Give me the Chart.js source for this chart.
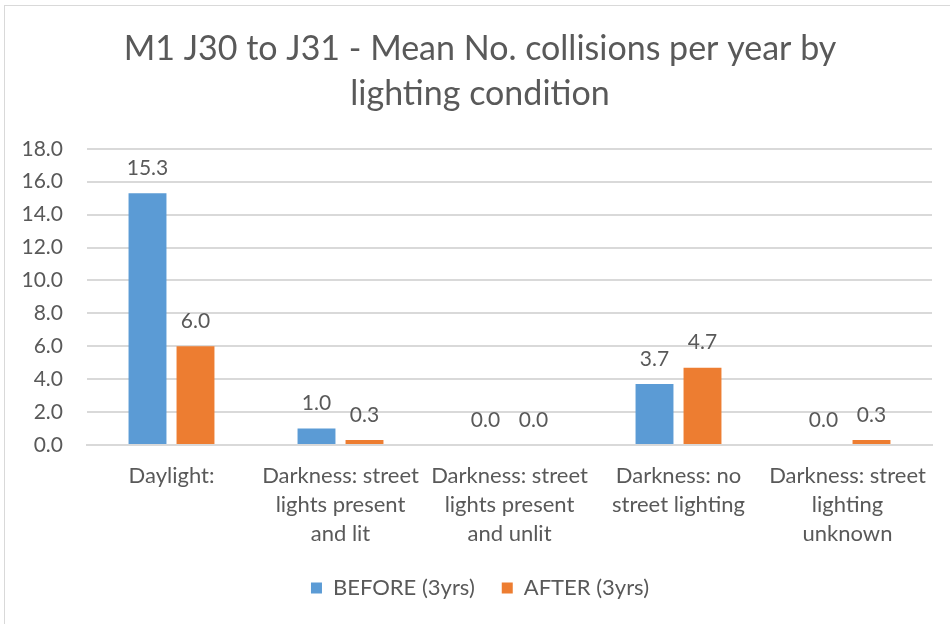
<!DOCTYPE html>
<html>
<head>
<meta charset="utf-8">
<script src="https://cdn.jsdelivr.net/npm/chart.js@4"></script>
<style>
  html, body { margin: 0; padding: 0; background: #fff; }
  #wrap { position: relative; width: 950px; height: 624px; overflow: hidden; }
  #frame { position: absolute; left: 4px; top: 5px; width: 960px; height: 640px; border: 1px solid #d9d9d9; pointer-events: none; }
</style>
</head>
<body>
<div id="wrap">
  <canvas id="myChart" width="950" height="624"></canvas>
  <div id="frame"></div>
</div>
<script>
const categories = [
    ['Daylight:'],
    ['Darkness: street', 'lights present', 'and lit'],
    ['Darkness: street', 'lights present', 'and unlit'],
    ['Darkness: no', 'street lighting'],
    ['Darkness: street', 'lighting', 'unknown']
];
const beforeValues = [15.3, 1.0, 0.0, 3.7, 0.0];
const afterValues = [6.0, 0.3, 0.0, 4.7, 0.3];
const yTicks = [0, 2, 4, 6, 8, 10, 12, 14, 16, 18];

const textColor = '#595959';
const fontFamily = 'Lato, "Open Sans", sans-serif';

// value labels above each bar
const barLabels = {
    id: 'barLabels',
    afterDatasetsDraw(chart) {
        const ctx = chart.ctx;
        ctx.save();
        ctx.font = '21px ' + fontFamily;
        ctx.fillStyle = textColor;
        ctx.textAlign = 'center';
        ctx.textBaseline = 'middle';
        chart.data.datasets.forEach((ds, i) => {
            chart.getDatasetMeta(i).data.forEach((bar, j) => {
                ctx.fillText(ds.data[j].toFixed(1), bar.x, bar.y - 25);
            });
        });
        ctx.restore();
    }
};

new Chart(document.getElementById('myChart').getContext('2d'), {
    type: 'bar',
    data: {
        labels: categories,
        datasets: [{
            label: 'BEFORE (3yrs)',
            data: beforeValues,
            backgroundColor: '#5B9BD5',
            categoryPercentage: 0.568,
            barPercentage: 0.79
        }, {
            label: 'AFTER (3yrs)',
            data: afterValues,
            backgroundColor: '#ED7D31',
            categoryPercentage: 0.568,
            barPercentage: 0.79
        }]
    },
    options: {
        responsive: false,
        animation: false,
        layout: {
            padding: { left: 10, right: 0, top: 0, bottom: 15 }
        },
        plugins: {
            title: {
                display: true,
                text: ['M1 J30 to J31 - Mean No. collisions per year by', 'lighting condition'],
                color: textColor,
                font: { family: fontFamily, size: 34, weight: 'normal', lineHeight: 1.32 },
                padding: { top: 27, bottom: 32 }
            },
            legend: {
                position: 'bottom',
                labels: {
                    color: textColor,
                    font: { family: fontFamily, size: 22 },
                    boxWidth: 11,
                    boxHeight: 11,
                    padding: 27
                }
            },
            tooltip: { enabled: false }
        },
        scales: {
            x: {
                afterFit(scale) { scale.height = 105; },
                grid: { display: false },
                border: { color: '#d9d9d9', width: 2 },
                ticks: {
                    color: textColor,
                    font: { family: fontFamily, size: 22, lineHeight: 1.32 },
                    padding: 8,
                    maxRotation: 0,
                    autoSkip: false
                }
            },
            y: {
                min: 0,
                max: 18,
                afterFit(scale) { scale.width = 77; },
                afterBuildTicks(scale) { scale.ticks = yTicks.map(v => ({ value: v })); },
                grid: { color: '#d9d9d9', lineWidth: 2, drawTicks: false },
                border: { display: false },
                ticks: {
                    color: textColor,
                    font: { family: fontFamily, size: 21 },
                    padding: 24,
                    callback: function(value) {
                        return value.toFixed(1);
                    }
                }
            },
            // empty right-hand axis, only keeps a margin beside the plot
            y2: {
                position: 'right',
                min: 0,
                max: 18,
                afterFit(scale) { scale.width = 18; },
                grid: { display: false },
                border: { display: false },
                ticks: { display: false }
            }
        }
    },
    plugins: [barLabels]
});
</script>
</body>
</html>
